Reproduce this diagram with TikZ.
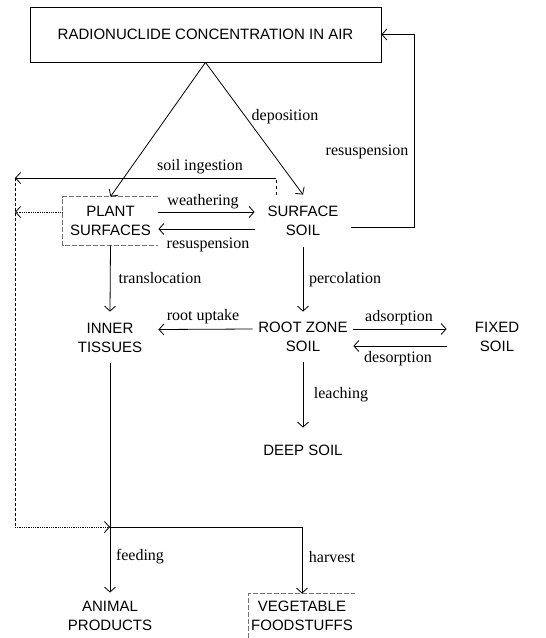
\documentclass[tikz,border=0pt]{standalone}
\usepackage{fontspec}
\setmainfont{Liberation Serif}
\newfontfamily\sansf{Liberation Sans}
\usetikzlibrary{arrows.meta,calc}
\begin{document}
\begin{tikzpicture}[x=1pt,y=-1pt,line width=0.8pt,
  >={Straight Barb[length=5pt,width=11pt]},
  box/.style={font=\sansf\fontsize{15}{19}\selectfont, align=center, inner sep=0pt},
  lbl/.style={font=\fontsize{16}{18}\selectfont, inner sep=0pt},
  faint/.style={draw=black!55, dash pattern=on 5pt off 2pt, line width=0.6pt}]
\useasboundingbox (0,0) rectangle (546,638);
\clip (0,0) rectangle (546,638);

% nodes
\node[box, draw, minimum width=351pt, minimum height=55pt] (air) at (205.5,34.5) {RADIONUCLIDE CONCENTRATION IN AIR};
\node[box, minimum width=95pt, minimum height=48pt] (plant) at (110.5,221) {PLANT\\SURFACES};
\node[box, minimum width=96pt, minimum height=52pt] (surf) at (303,221) {SURFACE\\SOIL};
\node[box, minimum width=96pt, minimum height=51pt] (inner) at (110,337.5) {INNER\\TISSUES};
\node[box, minimum width=100pt, minimum height=50pt] (rootz) at (303,337) {ROOT ZONE\\SOIL};
\node[box, minimum width=100pt, minimum height=50pt] (fixed) at (497,337) {FIXED\\SOIL};
\node[box, minimum width=100pt, minimum height=44pt] (deep) at (303,450) {DEEP SOIL};
\node[box, minimum width=100pt, minimum height=46pt] (animal) at (110,616) {ANIMAL\\PRODUCTS};
\node[box, minimum width=106pt, minimum height=44pt] (veg) at (302,616) {VEGETABLE\\FOODSTUFFS};

\coordinate (ingR) at (276,178);
\coordinate (ingL) at (15,178);
\coordinate (botL) at (15,527);

% faint dashed boxes
\draw[faint] (plant.north east) -- (plant.north west) -- (plant.south west) -- (plant.south east);
\draw[faint] (veg.south west) -- (veg.north west) -- (veg.north east);

% connectors
\draw[->] (air.south) -- (plant.north);
\draw[->] (air.south) -- (surf.north);
\draw[->] ([yshift=9pt]plant.east) -- ([yshift=9pt]surf.west);
\draw[->] ([yshift=-8pt]surf.west) -- ([yshift=-8pt]plant.east);
\draw[->] ([yshift=-6pt]surf.east) -| ([xshift=33pt]air.east) -- (air.east);
\draw[->] (plant.south) -- (inner.north);
\draw[->] (surf.south) -- (rootz.north);
\draw[->] ([yshift=8pt]rootz.west) -- ([yshift=8pt]inner.east);
\draw[->] ([yshift=8pt]rootz.east) -- ([yshift=8pt]fixed.west);
\draw[->] ([yshift=-9pt]fixed.west) -- ([yshift=-9pt]rootz.east);
\draw[->] (rootz.south) -- (deep.north);

\draw[dashed, line width=0.6pt] (surf.north -| ingR) -- (ingR);
\draw[->] (ingR) -- (ingL);
\draw[densely dashed, line width=0.5pt] (ingL) -- (botL);
\draw[->, densely dotted] ([yshift=9pt]plant.west) -- ([yshift=9pt]plant.west -| ingL);
\draw[->, densely dotted] (botL) -- (inner.south |- botL);
\draw (inner.south) -- (inner.south |- botL);
\draw[->] (inner.south |- botL) -- (animal.north);
\draw[->] (inner.south |- botL) -| (veg.north);

% labels
\node[lbl] (ldep) at (285,117) {deposition};
\node[lbl] (lres1) at (367,152) {resuspension};
\node[lbl] (ling) at (200,167) {soil ingestion};
\node[lbl] (lwea) at (203,202) {weathering};
\node[lbl] (lres2) at (208,245) {resuspension};
\node[lbl] (ltra) at (160,278) {translocation};
\node[lbl] (lper) at (345,280) {percolation};
\node[lbl] (lroot) at (203,317) {root uptake};
\node[lbl] (lads) at (399,318) {adsorption};
\node[lbl] (ldes) at (398,359) {desorption};
\node[lbl] (llea) at (341,395) {leaching};
\node[lbl] (lfee) at (140,557) {feeding};
\node[lbl] (lhar) at (332,557) {harvest};
\end{tikzpicture}
\end{document}
